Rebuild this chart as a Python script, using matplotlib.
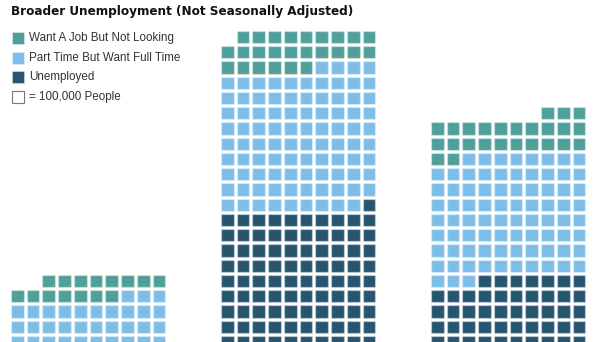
import matplotlib.pyplot as plt
from matplotlib.patches import Rectangle

# one square = 100,000 people, filled right-to-left, bottom-up
groups = ['A', 'B', 'C']
unemployed = [100, 191, 147]
part_time = [33, 93, 81]
want_job = [15, 25, 25]

labels = ['Want A Job But Not Looking', 'Part Time But Want Full Time', 'Unemployed']
colors = ['#509f9a', '#7dbde8', '#27546e']
edge = (1, 1, 1, 0.35)

W, H = 608, 342
fig = plt.figure(figsize=(W / 100, H / 100), dpi=100)
ax = fig.add_axes([0, 0, 1, 1])

px_x, px_y = 15.74, 15.25   # cell pitch in pixels
ncol = 10
gap = 210 / px_x            # group spacing in cell units
cell = 0.8

for g in range(len(groups)):
    seq = [colors[2]] * unemployed[g] + [colors[1]] * part_time[g] + [colors[0]] * want_job[g]
    for i, c in enumerate(seq):
        row = i // ncol
        col = ncol - 1 - i % ncol
        ax.add_patch(Rectangle((g * gap + col, row), cell, cell * px_x / px_y * 0.98,
                               facecolor=c, edgecolor=edge, lw=1))

# map pixels: left edge of first cell at x=11px, top of row 10 at y=336px
top10 = 10 + cell
ax.set_xlim(-11 / px_x, (W - 11) / px_x)
ax.set_ylim(top10 - (H - 336) / px_y, top10 + 336 / px_y)
ax.axis('off')

def fx(x):
    return x / W

def fy(y):
    return 1 - y / H

fig.text(fx(11), fy(11), 'Broader Unemployment (Not Seasonally Adjusted)',
         family=['DejaVu Sans'], stretch='condensed', weight='bold',
         fontsize=9.6, color='#111111', va='center')

leg_y = [38, 58, 77, 97]
for k in range(4):
    if k < 3:
        fc, ec = colors[k], edge
        txt = labels[k]
    else:
        fc, ec = 'white', '#777777'
        txt = '= 100,000 People'
    fig.patches.append(Rectangle((fx(12), fy(leg_y[k] + 6)), 12 / W, 12 / H,
                                 transform=fig.transFigure, facecolor=fc,
                                 edgecolor=ec, lw=0.8))
    fig.text(fx(29), fy(leg_y[k]), txt, family=['Liberation Sans', 'DejaVu Sans'],
             fontsize=8.4, color='#333333', va='center')

fig.savefig('out.png', dpi=100)
